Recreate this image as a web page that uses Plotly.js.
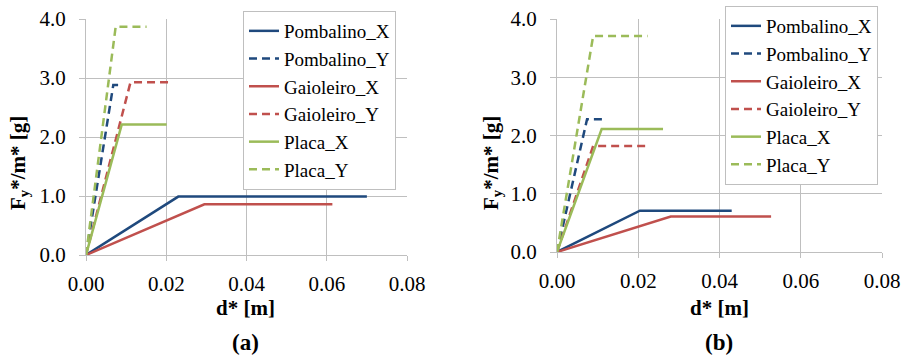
<!DOCTYPE html>
<html>
<head>
<meta charset="utf-8">
<script src="https://cdn.plot.ly/plotly-3.0.1.min.js"></script>
<style>html,body{margin:0;padding:0;background:#fff;}#chart{width:910px;height:360px;}</style>
</head>
<body>
<div id="chart"></div>
<script>
// Series names
const seriesNames = ["Pombalino_X", "Pombalino_Y", "Gaioleiro_X", "Gaioleiro_Y", "Placa_X", "Placa_Y"];

// Panel (a): d* [m] and Fy*/m* [g]
const a_pombX_x = [0, 0.0230, 0.0700];  const a_pombX_y = [0, 0.99, 0.99];
const a_pombY_x = [0, 0.0068, 0.0080];  const a_pombY_y = [0, 2.88, 2.88];
const a_gaioX_x = [0, 0.0295, 0.0614];  const a_gaioX_y = [0, 0.86, 0.86];
const a_gaioY_x = [0, 0.0111, 0.0216];  const a_gaioY_y = [0, 2.93, 2.93];
const a_placX_x = [0, 0.0089, 0.0201];  const a_placX_y = [0, 2.21, 2.21];
const a_placY_x = [0, 0.0074, 0.0151];  const a_placY_y = [0, 3.87, 3.87];

// Panel (b)
const b_pombX_x = [0, 0.0204, 0.0430];  const b_pombX_y = [0, 0.71, 0.71];
const b_pombY_x = [0, 0.0074, 0.0112];  const b_pombY_y = [0, 2.28, 2.28];
const b_gaioX_x = [0, 0.0280, 0.0527];  const b_gaioX_y = [0, 0.61, 0.61];
const b_gaioY_x = [0, 0.0089, 0.0222];  const b_gaioY_y = [0, 1.82, 1.82];
const b_placX_x = [0, 0.0110, 0.0261];  const b_placX_y = [0, 2.11, 2.11];
const b_placY_x = [0, 0.0089, 0.0223];  const b_placY_y = [0, 3.71, 3.71];

const xTickVals = [0, 0.02, 0.04, 0.06, 0.08];
const yTickVals = [0, 1, 2, 3, 4];

const colors = ["#1F497D", "#1F497D", "#C0504D", "#C0504D", "#9BBB59", "#9BBB59"];
const dashes = ["solid", "8px,5px", "solid", "8px,5px", "solid", "8px,5px"];

const aData = [[a_pombX_x,a_pombX_y],[a_pombY_x,a_pombY_y],[a_gaioX_x,a_gaioX_y],[a_gaioY_x,a_gaioY_y],[a_placX_x,a_placX_y],[a_placY_x,a_placY_y]];
const bData = [[b_pombX_x,b_pombX_y],[b_pombY_x,b_pombY_y],[b_gaioX_x,b_gaioX_y],[b_gaioY_x,b_gaioY_y],[b_placX_x,b_placX_y],[b_placY_x,b_placY_y]];

const FONT = "Liberation Serif, Times New Roman, serif";
const traces = [];
aData.forEach((d, i) => traces.push({
  type: "scatter", mode: "lines", x: d[0], y: d[1], name: seriesNames[i],
  xaxis: "x", yaxis: "y", legend: "legend",
  line: {color: colors[i], width: 2.5, dash: dashes[i]}
}));
bData.forEach((d, i) => traces.push({
  type: "scatter", mode: "lines", x: d[0], y: d[1], name: seriesNames[i],
  xaxis: "x2", yaxis: "y2", legend: "legend2",
  line: {color: colors[i], width: 2.5, dash: dashes[i]}
}));

const GRID = "#bfbfbf";
function xax(domain, anchor) {
  return {domain: domain, anchor: anchor, range: [0, 0.08], tickvals: xTickVals, tickformat: ".2f",
    showgrid: true, gridcolor: GRID, gridwidth: 1, showline: true, linecolor: GRID, linewidth: 1,
    ticks: "outside", ticklen: 5, tickcolor: GRID, zeroline: false,
    tickfont: {family: FONT, size: 21, color: "#000"}, ticklabelstandoff: 5, fixedrange: true};
}
function yax(domain, anchor) {
  return {domain: domain, anchor: anchor, range: [0, 4], tickvals: yTickVals, tickformat: ".1f",
    showgrid: true, gridcolor: GRID, gridwidth: 1, showline: true, linecolor: GRID, linewidth: 1,
    ticks: "outside", ticklen: 6, tickcolor: GRID, zeroline: false,
    tickfont: {family: FONT, size: 21, color: "#000"}, ticklabelstandoff: 9, fixedrange: true};
}
function leg(x, y) {
  return {x: x, y: y, xanchor: "left", yanchor: "top", bgcolor: "#fff", bordercolor: GRID, borderwidth: 1,
    font: {family: FONT, size: 19, color: "#000"}, tracegroupgap: 0, itemwidth: 30};
}
function ann(text, x, y, size, angle) {
  return {text: text, x: x, y: y, xref: "paper", yref: "paper", xanchor: "center", yanchor: "middle",
    showarrow: false, textangle: angle || 0, font: {family: FONT, size: size, color: "#000"}};
}

const layout = {
  width: 910, height: 360, margin: {l: 0, r: 0, t: 0, b: 0},
  paper_bgcolor: "#fff", plot_bgcolor: "#fff", showlegend: true,
  font: {family: FONT, color: "#000"},
  xaxis: xax([86/910, 407/910], "y"),
  yaxis: yax([105/360, 341/360], "x"),
  xaxis2: xax([557/910, 882/910], "y2"),
  yaxis2: yax([108/360, 341/360], "x2"),
  legend: leg(243/910, 349/360),
  legend2: leg(725/910, 354/360),
  annotations: [
    ann("<b>F<sub>y</sub>*/m* [g]</b>", 19/910, 197/360, 21, -90),
    ann("<b>F<sub>y</sub>*/m* [g]</b>", 492/910, 197/360, 21, -90),
    ann("<b>d* [m]</b>", 246/910, 52/360, 21),
    ann("<b>d* [m]</b>", 719/910, 52/360, 21),
    ann("<b>(a)</b>", 246/910, 18/360, 23),
    ann("<b>(b)</b>", 719/910, 18/360, 23)
  ]
};

Plotly.newPlot("chart", traces, layout, {displayModeBar: false, staticPlot: true});
</script>
</body>
</html>
